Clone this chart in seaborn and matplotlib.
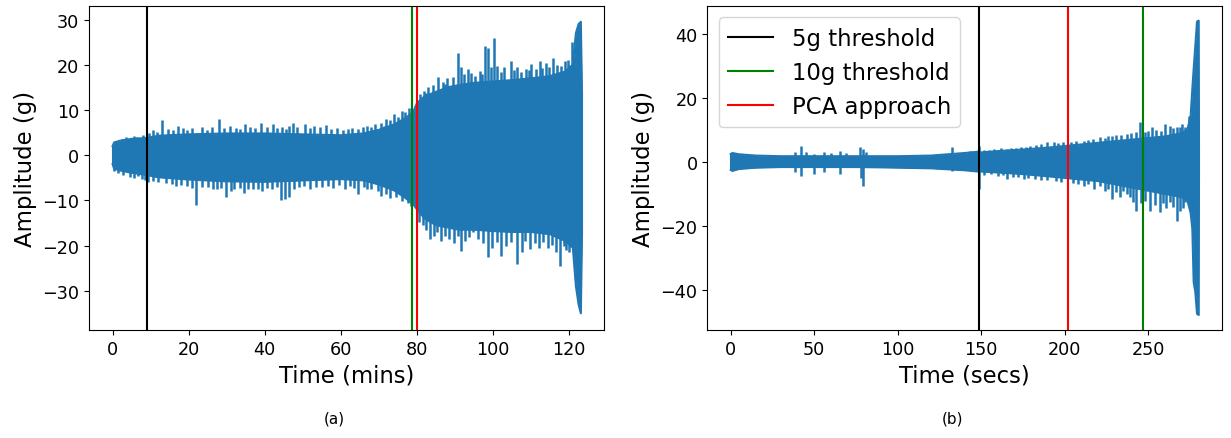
import numpy as np
import pandas as pd
import matplotlib
matplotlib.use("Agg")
import matplotlib.pyplot as plt
import seaborn as sns

# ---- panel (a): envelope of the signal (mins, g)
ta_env = [0, 0.4, 2, 5, 9, 12, 20, 30, 40, 50, 60, 66, 70, 74, 77, 79, 80, 82, 85, 88,
          91, 95, 100, 105, 110, 115, 119, 121, 121.8, 122.5, 123.1, 123.4]
hi_a = [2.0, 2.8, 3.2, 3.6, 3.8, 4.3, 4.6, 4.8, 4.8, 4.6, 4.4, 4.8, 5.6, 6.8, 8.2, 9.5,
        11.5, 13.0, 14.0, 15.0, 15.5, 16.0, 16.3, 16.6, 17.0, 17.5, 18.5, 20.0, 27.0, 29.0, 29.5, 13.9]
lo_a = [-2.0, -3.0, -3.4, -3.9, -4.4, -4.9, -5.4, -5.8, -5.9, -5.6, -5.3, -5.6, -6.5, -7.8,
        -9.5, -10.8, -12.0, -14.0, -15.5, -16.0, -16.5, -16.5, -16.8, -17.0, -17.0, -17.5,
        -19.0, -20.5, -29.0, -33.0, -35.0, -17.5]

# peaks sticking out of the envelope
ta_up = [1, 2.5, 3.5, 5.5, 6.5, 8, 9.5, 10.5, 11.6, 12.9, 14.5, 15.8, 17.2, 18.5, 19.6, 21.0,
         23.5, 24.8, 26.2, 27.9, 29.3, 30.8, 32.5, 33.6, 34.7, 36, 37.5, 39.1, 40.5, 42.2,
         43.3, 44.5, 45.5, 46.3, 47.4, 48.6, 50.5, 51.8, 53, 54.5, 56, 57.5, 59, 60.5, 61.8,
         63, 64.5, 65.8, 67, 68, 69, 70.5, 71.3, 72, 73, 74, 75, 76, 77, 78,
         80.8, 81.8, 82.5, 83, 84.2, 85.6, 86.8, 87.5, 88, 89.5, 90.8, 91.7, 92.5, 93.4, 94.2,
         95.3, 96.5, 97, 97.8, 98.7, 99.4, 100.2, 101.1, 102, 103, 104.8, 105.5, 106.3, 107.3,
         108.8, 109.5, 110.1, 111.2, 112.3, 113, 113.9, 114.8, 115.8, 116.8, 117.8, 118.9,
         119.8, 120.3, 120.9]
va_up = [3.2, 3.6, 4.1, 4.3, 4.1, 4.5, 4.9, 5.5, 5.2, 7.8, 5.8, 5.5, 6.5, 6.0, 5.6, 6.0,
         6.2, 5.5, 6.3, 8.0, 6.0, 6.5, 6.0, 5.8, 6.9, 6.3, 6.0, 7.2, 6.2, 6.9,
         6.0, 6.3, 5.8, 6.5, 7.1, 6.2, 6.9, 6.0, 6.5, 6.2, 6.7, 5.8, 6.0, 5.5, 5.8,
         6.0, 5.8, 6.2, 6.5, 6.2, 7.0, 7.2, 6.5, 8.0, 7.8, 9.0, 8.5, 9.8, 9.5, 10.5,
         13.5, 14.2, 13.8, 15.0, 15.5, 17.2, 16.2, 15.8, 17.0, 17.2, 22.7, 19.4, 18.0, 19.0, 18.2,
         17.5, 18.7, 18.0, 24.2, 23.8, 19.5, 26.0, 19.8, 18.3, 19.5, 20.9, 18.8, 19.4, 18.5,
         19.0, 18.8, 20.1, 19.0, 20.9, 19.3, 20.4, 19.5, 21.6, 20.0, 19.8, 20.9,
         21.0, 20.0, 25.0]
ta_dn = [0.4, 1.5, 2.8, 4.6, 5.5, 6.8, 7.8, 8.6, 9.2, 10.5, 12, 14, 15.5, 16.8, 18, 19.5,
         20.8, 22, 23.5, 25, 26.5, 27.5, 28.6, 29.7, 31, 32, 33.4, 34.6, 35.6, 37, 38.3, 39.4,
         40.6, 42, 43.2, 44.3, 45.2, 46.4, 47.8, 49, 50.2, 52, 53.5, 55, 56.5, 58, 59.5, 61,
         62.5, 63.5, 64.5, 66, 67, 68, 69.8, 70.6, 72, 73, 74.5, 76, 77.6, 78.5,
         80.5, 81.5, 82.3, 83.4, 84.5, 85.3, 86.4, 87.5, 88.5, 89.8, 90.8, 91.7, 92.6, 93.6,
         94.8, 96, 97.5, 98.7, 99.8, 101, 102.2, 103.5, 104.8, 106.3, 107.5, 108.5, 109.7,
         111, 112.2, 113.2, 114.5, 115.5, 116.6, 117.6, 118.8, 119.3, 120]
va_dn = [-3.5, -4.0, -4.3, -4.8, -5.0, -4.6, -5.2, -5.5, -6.0, -5.8, -6.0, -6.2, -6.3, -6.8,
         -6.5, -6.8, -7.2, -11.1, -7.0, -7.0, -7.5, -7.5, -7.3, -9.3, -8.0, -7.5, -7.2, -8.4,
         -7.5, -7.5, -7.6, -7.9, -7.3, -7.5, -7.0, -10.0, -9.7, -9.3, -7.5, -7.0, -6.8, -7.5,
         -7.0, -7.0, -6.8, -7.2, -6.5, -7.5, -6.8, -7.2, -8.6, -7.0, -7.5, -7.5, -8.0, -9.0,
         -8.5, -9.5, -9.3, -10.1, -10.5, -11.2,
         -14.9, -15.5, -16.5, -18.6, -17.8, -17.0, -19.0, -18.0, -18.5, -19.5, -18.0, -21.2,
         -19.0, -18.2, -17.1, -18.5, -19.5, -22.6, -20.5, -19.2, -22.3, -20.0, -19.3, -24.1,
         -21.5, -19.0, -20.8, -19.5, -20.5, -19.3, -20.5, -19.8, -21.5, -24.5, -20.0, -21.0, -21.5]

# ---- panel (b): envelope of the signal (secs, g)
tb_env = [0, 1, 5, 15, 30, 45, 60, 75, 90, 100, 120, 140, 148, 150, 160, 175, 190, 200, 210,
          220, 230, 240, 250, 260, 270, 273.5, 275.5, 276.5, 277.3, 278.3, 279.3, 280.3, 280.5]
hi_b = [2.5, 2.8, 2.4, 2.0, 1.8, 1.8, 1.8, 1.8, 1.8, 1.8, 2.0, 2.8, 3.2, 3.0, 3.4, 3.9, 4.5,
        5.0, 5.5, 6.0, 6.5, 7.0, 7.5, 8.0, 9.0, 10.0, 14.5, 22.9, 29.2, 36.5, 44.0, 44.3, 2.0]
lo_b = [-2.5, -2.8, -2.2, -1.8, -1.6, -1.6, -1.6, -1.6, -1.7, -1.8, -2.0, -2.6, -3.0, -3.0,
        -3.3, -3.8, -4.5, -5.0, -5.5, -6.0, -7.0, -8.0, -9.0, -10.0, -11.0, -12.0, -16.0,
        -21.0, -37.7, -40.8, -47.6, -48.0, -2.0]

tb_up = [38.7, 42.3, 45, 49.7, 55.7, 60, 65.7, 69, 77.7, 79.3, 81, 132.6, 143.5, 148.5,
         152, 155, 158, 162, 165.5, 168, 171, 174, 177, 179.5, 183, 186, 189.5, 193.4, 196,
         199, 204, 207, 211.4, 214, 217, 221.4, 224, 226, 228.4, 231, 234, 237.4, 240, 243,
         245.3, 248, 250, 252.3, 255, 258, 260.3, 263.3, 265, 267.3, 269, 270.5, 272.3, 274.3]
vb_up = [3.0, 5.1, 3.0, 2.5, 3.0, 2.8, 3.5, 2.8, 4.6, 4.0, 3.2, 4.6, 3.5, 5.1,
         3.8, 3.6, 4.0, 4.3, 4.1, 4.5, 4.3, 4.8, 4.6, 5.1, 5.3, 5.6, 6.2, 6.2, 6.0,
         6.2, 6.3, 6.5, 6.7, 7.0, 7.2, 7.7, 7.6, 8.0, 8.2, 8.3, 8.6, 8.7, 9.0, 9.5,
         12.4, 9.3, 9.8, 10.9, 10.0, 9.8, 11.9, 11.4, 10.5, 10.9, 11.0, 12.0, 10.9, 14.5]
tb_dn = [38.7, 42.3, 49.7, 55.7, 65.7, 78, 79.3, 132.6, 149, 152, 156, 160, 163, 165.5, 169,
         172, 175.5, 178, 182, 186, 189.5, 195, 198, 205, 208, 211.4, 214, 217.4, 221.4, 224,
         226, 228.4, 231, 233.4, 235, 237.4, 239, 241, 243, 246, 248.3, 251.3, 254, 257.3,
         259, 261, 263.3, 265, 267.3, 269, 271, 272.3]
vb_dn = [-3.2, -4.3, -3.8, -3.2, -3.8, -5.0, -7.4, -2.7, -8.5, -4.0, -3.8, -4.5, -4.2, -5.3,
         -4.8, -4.6, -5.3, -5.0, -5.5, -5.8, -5.7, -6.0, -6.2, -6.5, -7.0, -7.4, -7.0, -8.5,
         -7.4, -9.0, -8.5, -11.6, -9.5, -11.1, -9.0, -10.0, -11.0, -12.5, -15.3, -13.0, -12.1,
         -15.3, -13.5, -15.8, -13.0, -14.5, -12.7, -14.0, -18.4, -15.5, -14.5, -12.7]

# detection times
th_a = {'5g threshold': 9.0, '10g threshold': 78.8, 'PCA approach': 80.0}
th_b = {'5g threshold': 148.9, '10g threshold': 246.9, 'PCA approach': 202.2}
th_colors = {'5g threshold': 'black', '10g threshold': 'green', 'PCA approach': 'red'}

blue = '#1f77b4'
fig = plt.figure(figsize=(12.31, 4.39), dpi=100)
ax1 = fig.add_axes([0.0723, 0.246, 0.4184, 0.738])
ax2 = fig.add_axes([0.5746, 0.246, 0.4184, 0.738])


def draw_signal(ax, t, hi, lo, tu, vu, td, vd):
    env = pd.DataFrame({'t': t, 'hi': hi, 'lo': lo})
    ax.fill_between(env['t'], env['lo'], env['hi'], color=blue, lw=0)
    sns.lineplot(data=env, x='t', y='hi', ax=ax, color=blue, lw=1.5)
    sns.lineplot(data=env, x='t', y='lo', ax=ax, color=blue, lw=1.5)
    ax.vlines([t[0], t[-1]], [lo[0], lo[-1]], [hi[0], hi[-1]], color=blue, lw=1.5)
    ax.vlines(tu, 0, vu, color=blue, lw=1.8)
    ax.vlines(td, 0, vd, color=blue, lw=1.8)


draw_signal(ax1, ta_env, hi_a, lo_a, ta_up, va_up, ta_dn, va_dn)
draw_signal(ax2, tb_env, hi_b, lo_b, tb_up, vb_up, tb_dn, vb_dn)

for name, x in th_a.items():
    ax1.axvline(x, color=th_colors[name], lw=1.5)
for name, x in th_b.items():
    ax2.axvline(x, color=th_colors[name], lw=1.5, label=name)

ax1.set_xlim(-6.2, 129.2)
ax1.set_ylim(-38.7, 33.0)
ax2.set_xlim(-14.0, 294.5)
ax2.set_ylim(-52.7, 48.9)

ax1.set_xlabel('Time (mins)', fontsize=16.4)
ax2.set_xlabel('Time (secs)', fontsize=16.4)
for ax in (ax1, ax2):
    ax.set_ylabel('Amplitude (g)', fontsize=16.4)
    ax.tick_params(labelsize=12.7)

ax2.legend(loc='upper left', fontsize=16.4)

fig.text(0.2716, 0.0456, '(a)', ha='center', va='center', fontsize=11)
fig.text(0.7739, 0.0456, '(b)', ha='center', va='center', fontsize=11)

fig.savefig('out.png', dpi=100)
